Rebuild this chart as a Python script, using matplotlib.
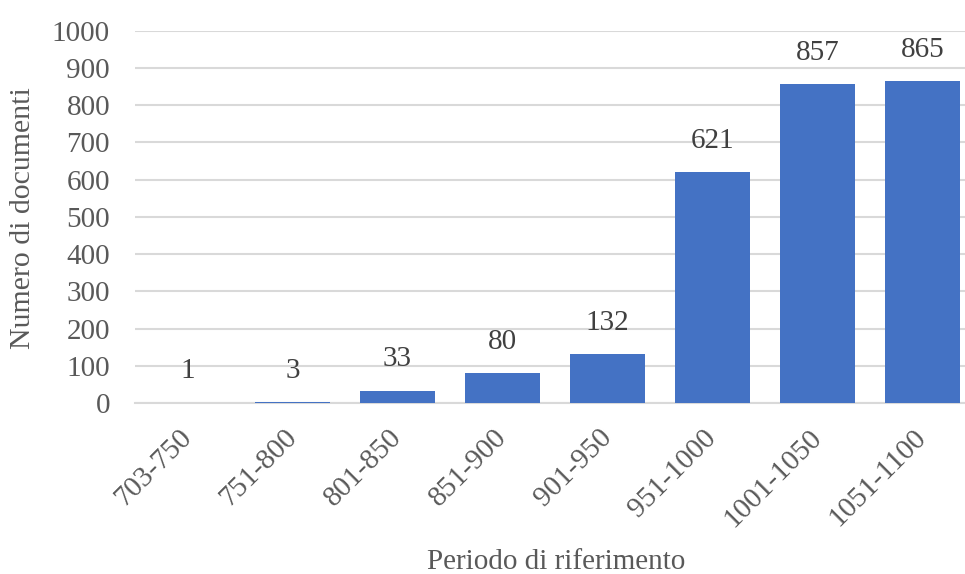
import matplotlib
matplotlib.use("Agg")
import matplotlib.pyplot as plt

# Documents per reference period
periods = ["703-750", "751-800", "801-850", "851-900", "901-950",
           "951-1000", "1001-1050", "1051-1100"]
counts = [1, 3, 33, 80, 132, 621, 857, 865]
y_ticks = [0, 100, 200, 300, 400, 500, 600, 700, 800, 900, 1000]

plt.rcParams["font.family"] = ["Liberation Serif", "DejaVu Serif"]

W, H = 965, 574
fig = plt.figure(figsize=(W / 100, H / 100), dpi=100)
ax = fig.add_axes([135 / W, (H - 403) / H, 840 / W, 372.3 / H])

x = list(range(len(periods)))
ax.bar(x, counts, width=0.71, color="#4472C4", zorder=3)

for xi, v in zip(x, counts):
    ax.annotate(str(v), (xi, v), xytext=(0, 22.5), textcoords="offset points",
                ha="center", va="center", fontsize=21, color="#404040")

ax.set_xlim(-0.5, len(periods) - 0.5)
ax.set_ylim(0, 1000)
ax.set_yticks(y_ticks)
ax.set_yticklabels([str(t) for t in y_ticks], fontsize=21, color="#595959")
ax.set_xticks(x)
ax.set_xticklabels(periods, fontsize=21, color="#595959", rotation=45,
                   ha="right", va="center", rotation_mode="anchor")
ax.tick_params(axis="y", length=0, pad=18)
ax.tick_params(axis="x", length=0, pad=22)

ax.grid(axis="y", color="#d9d9d9", linewidth=1.5, zorder=0)
for s in ["top", "right", "left"]:
    ax.spines[s].set_visible(False)
ax.spines["bottom"].set_color("#d9d9d9")
ax.spines["bottom"].set_linewidth(1.5)

fig.text(23 / W, 1 - 218 / H, "Numero di documenti", rotation=90,
         ha="center", va="center", fontsize=21.5, color="#595959")
fig.text(556 / W, 1 - 562 / H, "Periodo di riferimento",
         ha="center", va="center", fontsize=21, color="#595959")

fig.savefig("out.png", dpi=100)
